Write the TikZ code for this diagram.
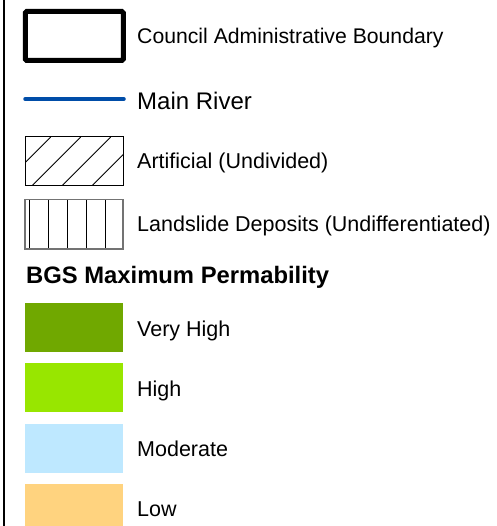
\documentclass[tikz,border=0pt]{standalone}
\usepackage{fontspec}
\setmainfont{Liberation Sans}
\definecolor{veryhigh}{HTML}{70A800}
\definecolor{high}{HTML}{98E600}
\definecolor{moderate}{HTML}{BEE8FF}
\definecolor{low}{HTML}{FFD37F}
\definecolor{river}{HTML}{004DA8}
\tikzset{
  patch/.style={rectangle, inner sep=0, outer sep=0, minimum width=98, minimum height=49},
  lbl/.style={anchor=base west, inner sep=0, font=\fontsize{21.5}{24}\selectfont}
}
\begin{document}
\begin{tikzpicture}[x=1pt, y=-1pt]
\clip (0,0) rectangle (496,526);
\fill[white] (0,0) rectangle (496,526);
\coordinate (edge0) at (4,0);
\coordinate (edge1) at (4,526);
\draw[line width=2](edge0) -- (edge1);
\node[patch, draw, line width=5, rounded corners=1.5] (bnd) at (74.25,36){};
\node[lbl, font=\fontsize{21.2}{24}\selectfont] (tbnd) at (137,44){Council Administrative Boundary};
\coordinate (riv0) at (25,99);
\coordinate (riv1) at (124,99);
\draw[river, line width=3.5, line cap=round](riv0) -- (riv1);
\node[lbl, font=\fontsize{24}{27}\selectfont] (triv) at (137,109.5){Main River};
\node[patch] (art) at (74,161.5){};
\begin{scope}
\clip (art.south west) rectangle (art.north east);
\draw[line width=0.9](1.7,186) -- (50.7,137);
\draw[line width=0.9](31.7,186) -- (80.7,137);
\draw[line width=0.9](61.7,186) -- (110.7,137);
\draw[line width=0.9](91.7,186) -- (140.7,137);
\end{scope}
\node[patch, draw, line width=1] (art) at (74,161.5){};
\node[lbl] (tart) at (137,169){Artificial (Undivided)};
\node[patch] (lsd) at (74,224.3){};
\draw[line width=0.9](29.5,199.8) -- (29.5,248.8);
\draw[line width=0.9](48.5,199.8) -- (48.5,248.8);
\draw[line width=0.9](67.2,199.8) -- (67.2,248.8);
\draw[line width=0.9](86.5,199.8) -- (86.5,248.8);
\draw[line width=0.9](105.2,199.8) -- (105.2,248.8);
\node[patch, draw=black!55, line width=1.4] (lsd) at (74,224.3){};
\node[lbl] (tlsd) at (137,231.7){Landslide Deposits (Undifferentiated)};
\node[lbl, font=\fontsize{23.8}{26}\bfseries] (ttl) at (26,283){BGS Maximum Permability};
\node[patch, fill=veryhigh] (p0) at (73.8,327.2){};
\node[lbl] (tp0) at (137,336){Very High};
\node[patch, fill=high] (p1) at (73.8,387.2){};
\node[lbl] (tp1) at (137,396){High};
\node[patch, fill=moderate] (p2) at (73.8,448.3){};
\node[lbl] (tp2) at (137,456){Moderate};
\node[patch, fill=low] (p3) at (73.8,508.5){};
\node[lbl] (tp3) at (137,516){Low};
\end{tikzpicture}
\end{document}
